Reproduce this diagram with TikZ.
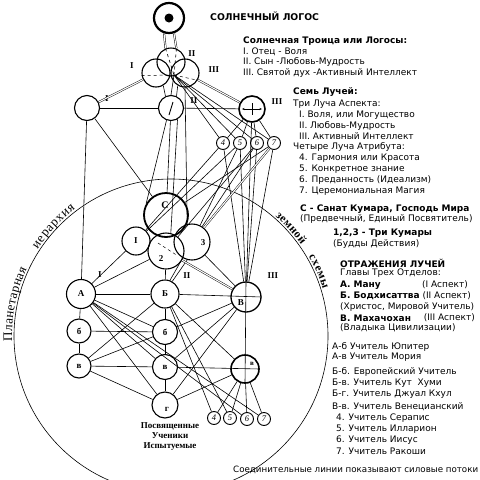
\documentclass[tikz,border=0pt]{standalone}
\usepackage{fontspec}
\setmainfont{Liberation Serif}
\newfontfamily\dvsans{DejaVu Sans}
\usetikzlibrary{calc,decorations.text,arrows.meta}
\newcommand\labfont{\bfseries\fontsize{9}{9}\selectfont}
\newcommand\romfont{\bfseries\fontsize{9}{9}\selectfont}
\newcommand\digfont{\itshape\fontsize{8.5}{8.5}\selectfont}
\newcommand\rtxt{\dvsans\fontsize{9}{9}\selectfont}
\newcommand\rbold{\dvsans\bfseries\fontsize{9}{9}\selectfont}
\newcommand\captxt{\dvsans\fontsize{8.7}{8.7}\selectfont}
\newcommand\arcfontA{\fontsize{13}{13}\selectfont}
\newcommand\arcfontB{\bfseries\fontsize{11.5}{11.5}\selectfont}
\begin{document}
\begin{tikzpicture}[x=1pt,y=-1pt,
 nd/.style={circle,draw,line width=1.1pt,inner sep=0pt,font=\labfont},
 cn/.style={line width=0.6pt},
 dbl/.style={double,double distance=1.1pt,line width=0.45pt},
 rom/.style={inner sep=0pt,font=\romfont},
 tx/.style={anchor=west,inner sep=0pt,font=\rtxt},
 tb/.style={anchor=west,inner sep=0pt,font=\rbold},
 sm/.style={nd,minimum size=13pt,line width=0.9pt,font=\digfont}
]
\fill[white] (0,0) rectangle (480,480);
\useasboundingbox (0,0) rectangle (480,480);
\clip (0,0) rectangle (480,480);

% big arc
\draw[line width=0.6pt] (171,336) circle[radius=157];
\path[decorate,decoration={text along path,text align={fit to path},raise=2pt,text={|\arcfontA|Планетарная}}]
  plot[domain=178:205,samples=40] ({171+157*cos(\x)},{336+157*sin(\x)});
\path[decorate,decoration={text along path,text align={fit to path},raise=2pt,text={|\arcfontA|иерархия}}]
  plot[domain=213:233,samples=40] ({171+157*cos(\x)},{336+157*sin(\x)});
\path[decorate,decoration={text along path,text align={fit to path},raise=2pt,text={|\arcfontB|земной}}]
  plot[domain=311:325,samples=40] ({171+157*cos(\x)},{336+157*sin(\x)});
\path[decorate,decoration={text along path,text align={fit to path},raise=2pt,text={|\arcfontB|схемы}}]
  plot[domain=330:343,samples=40] ({171+157*cos(\x)},{336+157*sin(\x)});

% nodes
\node[nd,minimum size=30pt,line width=2.2pt] (sun) at (169,18) {};
\node[circle,fill,inner sep=0pt,minimum size=9pt] (sundot) at (169,18) {};
\node[nd,minimum size=28pt] (t1) at (156,73) {};
\node[nd,minimum size=28pt] (t2) at (171,62) {};
\node[nd,minimum size=28pt] (t3) at (185,73) {};
\node[nd,minimum size=25pt] (p1) at (87,108) {};
\node[nd,minimum size=25pt] (p2) at (171,108) {};
\node[nd,minimum size=26pt,line width=1.6pt] (p3) at (252,109) {};
\node[sm] (r4) at (223,143) {4};
\node[sm] (r5) at (240,143) {5};
\node[sm] (r6) at (257,143) {6};
\node[sm] (r7) at (274,143) {7};
\node[nd,minimum size=44pt,line width=1.8pt] (c) at (166,215) {};
\node[nd,minimum size=28pt] (k1) at (136,241) {I};
\node[nd,minimum size=36pt] (k2) at (166,251) {};
\node[nd,minimum size=36pt] (k3) at (192,242) {};
\node[nd,minimum size=29pt] (A) at (81,294) {А};
\node[nd,minimum size=28pt] (B) at (165,294) {Б};
\node[nd,minimum size=30pt,line width=1.3pt] (V) at (246,297) {};
\node[nd,minimum size=24pt] (b1) at (79,331) {б};
\node[nd,minimum size=25pt] (b2) at (165,332) {б};
\node[nd,minimum size=24pt] (v1) at (79,366) {в};
\node[nd,minimum size=25pt] (v2) at (165,367) {в};
\node[nd,minimum size=28pt,line width=1.6pt] (g2) at (245,369) {};
\node[nd,minimum size=26pt] (g) at (165,405) {};
\node[sm] (q4) at (214,418) {4};
\node[sm] (q5) at (230,418) {5};
\node[sm] (q6) at (247,419) {6};
\node[sm] (q7) at (264,419) {7};

% inner labels
\node[inner sep=0pt,font=\bfseries\fontsize{10}{10}\selectfont] (cl) at (165,205) {С};
\node[inner sep=0pt,font=\labfont] (k2l) at (161,259) {2};
\node[inner sep=0pt,font=\labfont] (k3l) at (203,243) {3};
\node[inner sep=0pt,font=\labfont] (Vl) at (241,303) {В};
\node[inner sep=0pt,font=\bfseries\fontsize{7}{7}\selectfont] (g2l) at (252,364) {в};
\node[inner sep=0pt,font=\labfont] (gl) at (167,409) {г};
\node[inner sep=0pt,align=center,font=\bfseries\fontsize{9}{10}\selectfont] (pos) at (170,437) {Посвященные\\Ученики\\Испытуемые};

% roman labels
\node[rom] (lI1) at (132,66) {I};
\node[rom] (lII1) at (192,54) {II};
\node[rom] (lIII1) at (214,70) {III};
\node[rom] (lI2) at (107,99) {I};
\node[rom] (lII2) at (194,101) {II};
\node[rom] (lIII2) at (277,102) {III};
\node[rom] (lI3) at (100,275) {I};
\node[rom] (lII3) at (187,276) {II};
\node[rom] (lIII3) at (273,276) {III};

% inner marks
\coordinate (tc) at (174,75);
\draw[line width=0.9pt] ($(p2)+(-2,7)$) -- ($(p2)+(2,-6)$);
\draw[line width=0.5pt,{Stealth[length=2.5pt,width=2pt]}-{Stealth[length=2.5pt,width=2pt]}] ($(p3)+(-10,0)$) -- ($(p3)+(10,0)$);
\draw[line width=0.5pt] ($(p3)+(0,-6)$) -- ($(p3)+(0,6)$);
\draw[dashed,line width=0.5pt] ($(k2)+(-8,-8)$) -- ($(k2)+(12,5)$);
\draw[dashed,line width=0.5pt] (t1.190) -- (tc);
\draw[dashed,line width=0.5pt] (tc) -- (t3.330);

% connectors top
\draw[dbl] (sun.252) -- (t2.112);
\draw[dbl] (sun.288) -- (t2.68);
\draw[cn,dashed] (t2.112) -- (tc);
\draw[cn,dashed] (t2.68) -- (tc);
\draw[dbl] (t1) -- (p1);
\draw[dbl] (t3) -- (p3);
\draw[cn] (p1) -- (p2);
\draw[cn] (p2) -- (p3);
\draw[cn] (p1) -- (A);
\draw[cn] (p1) -- (c);
\draw[cn] (t1.300) -- (p2.115);
\draw[cn] (tc) -- (p2.90);
\draw[cn] (t3.240) -- (p2.65);
\draw[cn] (tc) -- (r4);
\draw[cn] (tc) -- (r5);
\draw[cn] (tc) -- (r6);
\draw[cn] (tc) -- (r7);
\draw[cn] (p3) -- (r4);
\draw[cn] (p3) -- (r5);
\draw[cn] (p3) -- (r6);
\draw[cn] (p3) -- (r7);
\draw[cn] (p2) -- (c);
\draw[cn] (p2.250) -- (c.150);
\draw[cn] (p2.300) -- (k2.75);
\draw[cn] (t3.270) -- (k3.105);
\draw[cn] (r4) -- (V);
\draw[cn] (r5) -- (V);
\draw[cn] (r6) -- (V);
\draw[cn] (r7) -- (V);
\draw[cn] (p3) -- (V);
\draw[cn] (r4) -- (k1);
\draw[cn] (r5) -- (k1);
\draw[cn] (r6) -- (k2);
\draw[cn] (r7) -- (c);
\draw[cn] (r5) -- (k3);
\draw[cn] (r6) -- (k3);
\draw[dbl] (r7) -- (k3);

% lower cluster to rows
\draw[cn] (k1) -- (A);
\draw[cn] (k2) -- (A);
\draw[cn] (k2) -- (B);
\draw[cn] (k3.240) -- (B.70);
\draw[cn] (k3.255) -- (B.60);
\draw[dbl] (k2) -- (V);
\draw[cn] (k3) -- (V);

% rows
\draw[cn] (A) -- (B);
\draw[cn] (B) -- (V.east);
\draw[cn] (V.north) -- (g2.south);
\draw[cn] (A) -- (b1);
\draw[cn] (b1) -- (v1);
\draw[cn] (B) -- (b2);
\draw[cn] (b2) -- (v2);
\draw[cn] (v2) -- (g);
\draw[cn] (b1) -- (b2);
\draw[cn] (v1) -- (v2);
\draw[cn] (v2) -- (g2.east);
\draw[cn] (v1) -- (g);
\draw[cn] (B) -- (v1);
\draw[cn] (v1) -- (b2);
\draw[cn] (b2) -- (V);
\draw[cn] (v2) -- (V);
\draw[cn] (g) -- (g2);
\draw[cn] (g) -- (V);
\draw[cn] (A) -- (b2);
\draw[cn] (A) -- (v2);
\draw[cn] (A) -- (g);
\draw[cn] (A) -- (q6);
\draw[cn] (A) -- (q7);
\draw[cn] (B) -- (q4);
\draw[cn] (B) -- (q5);
\draw[cn] (B) -- (g2);
\draw[cn] (g2) -- (q4);
\draw[cn] (g2) -- (q5);
\draw[cn] (g2) -- (q6);
\draw[cn] (g2) -- (q7);

% right text
\node[anchor=west,inner sep=0pt,font=\dvsans\bfseries\fontsize{9.3}{9.3}\selectfont] (ttl) at (210,16) {СОЛНЕЧНЫЙ ЛОГОС};
\node[tb] (s1) at (243,41) {Солнечная Троица или Логосы:};
\node[tx] (s2) at (243,52) {I. Отец - Воля};
\node[tx] (s3) at (243,62) {II. Сын -Любовь-Мудрость};
\node[tx] (s4) at (243,73) {III. Святой дух -Активный Интеллект};
\node[tb] (y1) at (293,92) {Семь Лучей:};
\node[tx] (y2) at (293,104) {Три Луча Аспекта:};
\node[tx] (y3) at (299,115) {I. Воля, или Могущество};
\node[tx] (y4) at (299,126) {II. Любовь-Мудрость};
\node[tx] (y5) at (299,136) {III. Активный Интеллект};
\node[tx] (y6) at (293,147) {Четыре Луча Атрибута:};
\node[tx] (y7) at (299,158) {4. Гармония или Красота};
\node[tx] (y8) at (299,169) {5. Конкретное знание};
\node[tx] (y9) at (299,180) {6. Преданность (Идеализм)};
\node[tx] (y10) at (299,191) {7. Церемониальная Магия};
\node[tb] (m1) at (300,209) {С - Санат Кумара, Господь Мира};
\node[tx] (m2) at (300,219) {(Предвечный, Единый Посвятитель)};
\node[tb] (m3) at (333,233) {1,2,3 - Три Кумары};
\node[tx] (m4) at (333,244) {(Будды Действия)};
\node[tb] (o1) at (340,263) {ОТРАЖЕНИЯ ЛУЧЕЙ};
\node[tx] (o2) at (340,273) {Главы Трех Отделов:};
\node[tb] (o3) at (340,285) {А. Ману};
\node[tx,anchor=east] (o3b) at (468,285) {(I Аспект)};
\node[tx] (o4) at (340,296) {{\rbold Б. Бодхисаттва} (II Аспект)};
\node[tx] (o5) at (340,307) {(Христос, Мировой Учитель)};
\node[tb] (o6) at (340,318) {В. Махачохан};
\node[tx,anchor=east] (o6b) at (475,318) {(III Аспект)};
\node[tx] (o7) at (340,328) {(Владыка Цивилизации)};
\node[tx] (u1) at (332,347) {А-б Учитель Юпитер};
\node[tx] (u2) at (332,357) {А-в Учитель Мория};
\node[tx] (u3) at (332,372) {Б-б. Европейский Учитель};
\node[tx] (u4) at (332,383) {Б-в. Учитель Кут\ \ Хуми};
\node[tx] (u5) at (332,394) {Б-г. Учитель Джуал Кхул};
\node[tx] (u6) at (332,407) {В-в. Учитель Венецианский};
\node[tx] (u7) at (336,418) {4. Учитель Серапис};
\node[tx] (u8) at (336,429) {5. Учитель Илларион};
\node[tx] (u9) at (336,440) {6. Учитель Иисус};
\node[tx] (u10) at (336,451) {7. Учитель Ракоши};
\node[anchor=west,inner sep=0pt,font=\captxt] (cap) at (233,470) {Соединительные линии показывают силовые потоки};
\end{tikzpicture}
\end{document}
